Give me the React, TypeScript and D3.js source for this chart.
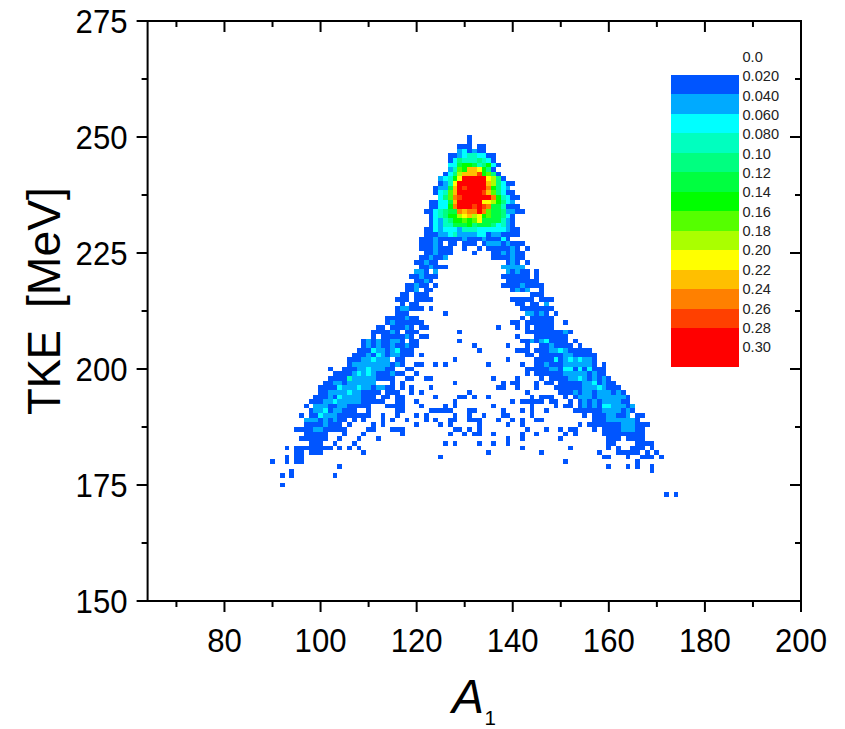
import React from "react";
import * as d3 from "d3";

const xTicksMajor = [80, 100, 120, 140, 160, 180, 200];
const xTicksMinor = [70, 90, 110, 130, 150, 170, 190];
const yTicksMajor = [150, 175, 200, 225, 250, 275];
const yTicksMinor = [162.5, 187.5, 212.5, 237.5, 262.5];
const legendLabels = ["0.0", "0.020", "0.040", "0.060", "0.080", "0.10", "0.12", "0.14", "0.16", "0.18", "0.20", "0.22", "0.24", "0.26", "0.28", "0.30"];
const levelKeys = "123456789abcdef";
const levelColors = ["#0055ff", "#00aaff", "#00ffff", "#00ffbf", "#00ff80", "#00ff40", "#00ff00", "#55ff00", "#aaff00", "#ffff00", "#ffbf00", "#ff8000", "#ff4000", "#ff0000", "#ff0000"];

// Each row: TKE, then "A:levels" runs. One level character per mass number, advancing from A.
const heatRows: [number, string][] = [
  [250, "131:1"],
  [249, "131:1"],
  [248, "129:111 133:11"],
  [247, "129:231211"],
  [246, "127:1123443311"],
  [245, "127:1354445431"],
  [244, "127:33677645731"],
  [243, "127:2487bba751"],
  [242, "126:1359bbbd7851"],
  [241, "125:2347aeeeeea951"],
  [240, "125:124aeeeeeeb95311"],
  [239, "124:1226bedeeeec75 32"],
  [238, "124:1348beeeeedb85311"],
  [237, "125:358cdeeeeeec74311"],
  [236, "123:11336beeeeeaa9753 2"],
  [235, "123:11337ceeedEdc66 4111"],
  [234, "122:11345 66cbccec8 665 2211"],
  [233, "123:134577 9ab9a78665 31"],
  [232, "123:132 457 7 8 7 8 a 6 6 6 6 4 2 1"],
  [231, "123:13244 666 7 5 6 6 6 5 3 4 2 1"],
  [230, "122:11323 33 2 444 33333 3 2 11"],
  [229, "122:1112234222233122111 1"],
  [228, "121:111211111211121113 1"],
  [227, "121:1112 1 127:11 130:111 134:1 135:222 138:1 139:2 140:111"],
  [226, "121:1112111 130:1 133:1 135:11111 140:2 141:1 143:1"],
  [225, "122:112111 132:1 136:11 138:2 139:1 140:2 141:11"],
  [224, "121:11211 126:2 136:1111 140:2 141:11"],
  [223, "120:11 122:2 123:11 139:1 140:2 141:1 143:1"],
  [222, "121:11 123:2 124:111 138:22222"],
  [221, "120:22 122:1 124:2 139:2 140:1 141:2 142:11 145:1"],
  [220, "119:11 121:2 122:111 138:111111 145:1"],
  [219, "120:11 122:2 123:1 139:1111111"],
  [218, "118:11 120:2 121:11 124:1 138:1111 142:2 143:1111"],
  [217, "118:11 120:2 122:11 140:1 141:2 142:1 143:2 146:1"],
  [216, "117:11 120:111 144:111"],
  [215, "116:111 120:1111 140:11111 146:111"],
  [214, "117:1 119:11 141:11 144:11 147:2"],
  [213, "116:1 117:22 119:111 123:1 142:1111111"],
  [212, "116:111 126:1 143:22 145:1 146:2 147:1 149:1"],
  [211, "114:1111 118:2 119:11 142:1 144:11111"],
  [210, "114:1 115:2 116:111111 140:11 143:1 144:11111 151:1"],
  [209, "112:11 115:111 118:2 119:1 121:11 137:1 141:1 143:1 145:1111"],
  [208, "111:1111 115:2 116:1 118:111 129:1 143:11 145:111111 151:2 152:1"],
  [207, "111:1 113:11111 118:2 119:1 121:11 141:1 145:1111111"],
  [206, "109:1 110:2 111:1 112:2 113:11 115:22 117:1 119:11 129:1 142:11 144:2 145:1 146:2 147:3 148:1111 153:1"],
  [205, "109:1 110:2 111:1 112:2 113:11 115:2 116:11 118:2 119:11 132:1 139:1 143:1 146:11 148:2 149:1111 154:1"],
  [204, "108:111 111:3 112:22 114:1 115:2 116:3 117:111 133:1 141:111 145:111 148:22 150:3 151:2 152:11111"],
  [203, "107:111 110:2 111:1 112:3 113:2 114:1 115:22 117:111 121:1 143:11 146:11111 151:22 153:11111"],
  [202, "106:111 109:22 111:3 112:22 114:2 116:11 128:1 139:1 145:1111 149:3 150:1 151:2 152:3 153:2 154:3 155:22 157:1"],
  [201, "106:1 107:22222222 115:1 116:2 117:1 120:11 124:1 126:1 135:1 142:1 145:11 147:2 148:111 151:222222 157:1 159:1"],
  [200, "102:1 105:111 108:22 110:3 111:222 114:11 118:11 143:11111 148:22 150:1 151:33 153:1 154:3 155:1 156:3 157:111"],
  [199, "103:1111 107:2 108:3 109:2 110:3 111:2 112:111 115:2 116:11 120:1 143:1 145:111111 151:22222 156:1 157:2 158:11"],
  [198, "102:1111 106:4 107:22222 112:1111 118:11 122:11 136:1 141:1 146:1 148:1111 152:22 154:3 155:2 156:1 157:2 158:1 159:2 160:1"],
  [197, "101:11 103:22 105:1 106:2 107:22222 115:1 117:1 128:1 138:1 140:11 145:1 147:11 150:11111 155:22 157:3 158:1 159:2 160:11"],
  [196, "100:1111 104:3 105:222 108:3 109:22 111:1 112:22 114:11 117:1 119:1 123:1 137:11 141:1 145:1 149:111111 155:222 158:3 159:2 160:111"],
  [195, "100:11 102:2222 106:3 107:22 109:1111 114:111 119:1 121:1 131:1 143:1 150:111 153:2 154:1 155:22 157:1 158:222 161:1 162:2 163:1"],
  [194, "99:111 102:2 103:1 104:3 105:2222 109:111 113:11 116:11 124:1 129:11 132:1 135:1 144:1 146:111 151:1 153:1 154:222 157:1 158:222222 164:1"],
  [193, "98:111 101:22 103:3 104:22222 109:11111 116:11 120:1 128:1 140:1 142:11111 148:11 152:1 154:1 155:2 156:1 157:2 158:1 159:2222 163:11"],
  [192, "97:1 99:222 102:11 104:22 106:11111 114:1111 121:1 126:1 128:1 136:1 144:1 149:1 151:11 154:1 155:2 156:1 157:2 158:1 159:33 161:222 164:1 165:2"],
  [191, "98:1 99:22 101:3 102:1 103:22 105:111 110:1 116:11 123:11111 131:11 138:1 142:1 144:1 147:1 153:111111 159:2222 163:1 164:2 165:1"],
  [190, "96:1 98:11 100:3 101:222 104:1111111 113:1 116:1 120:1 122:1 128:1 131:1 134:1 138:11 144:1 155:1 157:111 160:22 162:11 164:2 166:11"],
  [189, "97:222 100:1 101:2 102:1 103:2 104:11 107:1 109:1 113:1 115:1 118:1 122:1 124:1 127:11 131:111 137:1 140:1 142:1 145:11 157:111 160:222222 166:1"],
  [188, "97:1111 101:2 102:111 106:1 111:1 113:1 120:1 125:1 127:1 133:1 139:1 142:1 154:1 156:1111111 163:222 166:111"],
  [187, "95:1111 99:22 101:11111 110:11 115:111 128:11 131:1 133:1 143:1 147:1 150:1 152:11 157:1 159:1111 163:222 166:11"],
  [186, "97:11111 105:1 109:1 117:1 127:1 130:1 132:11 136:1 142:1 145:1 151:1 153:1 159:111111111"],
  [185, "96:111111 104:1 108:1 112:1 139:1 142:1 150:1 160:111 164:1111"],
  [184, "98:111 103:1 107:1 126:1 128:1 133:1 136:1 139:1 160:11 166:1111"],
  [183, "93:1 95:11111111 104:1 106:1 108:1 142:1 152:1 160:1 162:1 165:111 169:1"],
  [182, "95:11 98:111 109:1 135:1 146:1 158:1 162:11111 168:1 170:1"],
  [181, "93:1 95:11 125:1 159:11 164:1 167:111 171:1"],
  [180, "90:1 93:1 95:11 151:1 166:1"],
  [179, "104:1 160:1 164:1 166:1 169:1"],
  [178, "94:1 169:1"],
  [177, "92:1 94:1 103:1"],
  [175, "92:1"],
  [173, "172:1 174:1"],
];

type Cell = { a: number; t: number; level: number };
const cells: Cell[] = heatRows.flatMap(([t, spec]) => {
  const out: Cell[] = [];
  let a = 0;
  spec.split(" ").forEach((tok) => {
    if (!tok) return;
    let run = tok;
    if (tok.includes(":")) {
      const [s, r] = tok.split(":");
      a = +s;
      run = r;
    }
    for (const ch of run.toLowerCase()) {
      out.push({ a, t, level: levelKeys.indexOf(ch) });
      a += 1;
    }
  });
  return out;
});

const W = 845;
const H = 729;
const x = d3.scaleLinear().domain([64, 200]).range([147.6, 801]);
const y = d3.scaleLinear().domain([150, 275]).range([601, 21]);
const color = d3.scaleOrdinal<number, string>().domain(levelColors.map((_, i) => i)).range(levelColors);
const legendY = d3.scaleLinear().domain([0, 15]).range([75, 367]);
const legendLabelY = d3.scaleLinear().domain([0, legendLabels.length - 1]).range([56.6, 347]);

const sans = "'Liberation Sans', Arial, sans-serif";
const sw = 2;
const tickFont = 33.5;
const digitW = 17.3;

export default function App() {
  return (
    <svg width={W} height={H} viewBox={`0 0 ${W} ${H}`} style={{ position: "absolute", left: 0, top: 0, display: "block", background: "#fff" }}>
      <g shapeRendering="crispEdges">
        {cells.map((c, i) => (
          <rect
            key={i}
            x={x(c.a - 0.5)}
            y={y(c.t + 0.5)}
            width={x(c.a + 0.5) - x(c.a - 0.5)}
            height={y(c.t - 0.5) - y(c.t + 0.5)}
            fill={color(c.level)}
          />
        ))}
        {levelColors.map((col, i) => (
          <rect key={i} x={671} y={legendY(i)} width={68} height={legendY(i + 1) - legendY(i)} fill={col} />
        ))}
      </g>
      {legendLabels.map((l, i) => (
        <text key={l} x={742.5} y={legendLabelY(i)} dy="0.36em" fontFamily={sans} fontSize={14.6} fill="#222">
          {l}
        </text>
      ))}
      <g stroke="#000" strokeWidth={sw} fill="none">
        <rect x={x(64)} y={y(275)} width={x(200) - x(64)} height={y(150) - y(275)} />
        {yTicksMajor.map((v) => (
          <g key={v}>
            <line x1={x(64) - 11} x2={x(64)} y1={y(v)} y2={y(v)} />
            <line x1={x(200) - 11} x2={x(200)} y1={y(v)} y2={y(v)} />
          </g>
        ))}
        {yTicksMinor.map((v) => (
          <g key={v}>
            <line x1={x(64) - 6} x2={x(64)} y1={y(v)} y2={y(v)} />
            <line x1={x(200) - 6} x2={x(200)} y1={y(v)} y2={y(v)} />
          </g>
        ))}
        {xTicksMajor.map((v) => (
          <g key={v}>
            <line x1={x(v)} x2={x(v)} y1={y(150)} y2={y(150) + 11} />
            <line x1={x(v)} x2={x(v)} y1={y(275)} y2={y(275) + 11} />
          </g>
        ))}
        {xTicksMinor.map((v) => (
          <g key={v}>
            <line x1={x(v)} x2={x(v)} y1={y(150)} y2={y(150) + 6} />
            <line x1={x(v)} x2={x(v)} y1={y(275)} y2={y(275) + 6} />
          </g>
        ))}
      </g>
      {yTicksMajor.map((v) => (
        <text
          key={v}
          x={127.5}
          y={y(v) + 12}
          textAnchor="end"
          fontFamily={sans}
          fontSize={tickFont}
          textLength={digitW * 3}
          lengthAdjust="spacingAndGlyphs"
          fill="#000"
        >
          {v}
        </text>
      ))}
      {xTicksMajor.map((v) => (
        <text
          key={v}
          x={x(v)}
          y={652}
          textAnchor="middle"
          fontFamily={sans}
          fontSize={tickFont}
          textLength={digitW * String(v).length}
          lengthAdjust="spacingAndGlyphs"
          fill="#000"
        >
          {v}
        </text>
      ))}
      <text transform="translate(60,415) rotate(-90)" fontFamily={sans} fontSize={47} textLength={85} lengthAdjust="spacingAndGlyphs" fill="#000">
        TKE
      </text>
      <text transform="translate(60,308) rotate(-90)" fontFamily={sans} fontSize={47} textLength={121} lengthAdjust="spacingAndGlyphs" fill="#000">
        [MeV]
      </text>
      <text x={452} y={712.5} fontFamily={sans} fontStyle="italic" fontSize={48} fill="#000">
        A
      </text>
      <text x={484.5} y={724.5} fontFamily={sans} fontSize={20.5} fill="#000">
        1
      </text>
    </svg>
  );
}
